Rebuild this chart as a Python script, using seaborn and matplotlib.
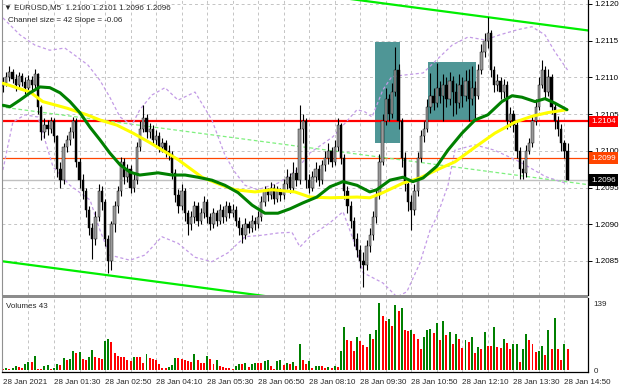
import numpy as np
import pandas as pd
import matplotlib
matplotlib.use('Agg')
from matplotlib import pyplot as plt
from matplotlib import transforms
import seaborn as sns

# EURUSD M5, 28 Jan 2021 -- bars
closes = [1.21092, 1.21100, 1.21108, 1.21098, 1.21090, 1.21102, 1.21094, 1.21085, 1.21097, 1.21090,
          1.21104, 1.21060, 1.21025, 1.21035, 1.21030, 1.21040, 1.21020, 1.20975, 1.20960, 1.21005,
          1.21015, 1.21025, 1.21040, 1.20985, 1.20960, 1.20945, 1.20920, 1.20895, 1.20880, 1.20910,
          1.20945, 1.20930, 1.20880, 1.20850, 1.20900, 1.20925, 1.20945, 1.20985, 1.20965, 1.20975,
          1.20950, 1.20960, 1.21005, 1.21030, 1.21045, 1.21025, 1.21030, 1.21015, 1.21020, 1.21005,
          1.21010, 1.21000, 1.20995, 1.20970, 1.20940, 1.20925, 1.20945, 1.20915, 1.20900, 1.20910,
          1.20925, 1.20905, 1.20915, 1.20930, 1.20910, 1.20900, 1.20915, 1.20905, 1.20920, 1.20910,
          1.20925, 1.20915, 1.20920, 1.20905, 1.20895, 1.20885, 1.20900, 1.20895, 1.20905, 1.20900,
          1.20910, 1.20930, 1.20945, 1.20940, 1.20950, 1.20935, 1.20945, 1.20940, 1.20955, 1.20965,
          1.20950, 1.20970, 1.20960, 1.21030, 1.21040, 1.20960, 1.20950, 1.20965, 1.20975, 1.20960,
          1.20980, 1.20990, 1.21000, 1.20985, 1.21005, 1.21035, 1.20990, 1.20945, 1.20925, 1.20905,
          1.20880, 1.20865, 1.20850, 1.20845, 1.20870, 1.20885, 1.20910, 1.20940, 1.20985, 1.21040,
          1.21070, 1.21050, 1.21080, 1.21110, 1.21040, 1.20990, 1.20955, 1.20930, 1.20920, 1.20945,
          1.20990, 1.21020, 1.21030, 1.21060, 1.21075, 1.21065, 1.21085, 1.21075, 1.21090, 1.21070,
          1.21095, 1.21080, 1.21065, 1.21090, 1.21075, 1.21095, 1.21070, 1.21085, 1.21075, 1.21110,
          1.21135, 1.21150, 1.21160, 1.21110, 1.21090, 1.21095, 1.21080, 1.21090, 1.21040, 1.21050,
          1.21035, 1.21000, 1.20975, 1.20970, 1.21000, 1.21010, 1.21040, 1.21060, 1.21090, 1.21110,
          1.21080, 1.21100, 1.21060, 1.21040, 1.21030, 1.21010, 1.21000, 1.20960]
highs = [1.21100, 1.21108, 1.21115, 1.21112, 1.21104, 1.21108, 1.21106, 1.21100, 1.21103, 1.21102,
         1.21112, 1.21106, 1.21062, 1.21045, 1.21042, 1.21046, 1.21044, 1.21022, 1.20985, 1.21010,
         1.21022, 1.21032, 1.21046, 1.21044, 1.20990, 1.20968, 1.20950, 1.20925, 1.20902, 1.20918,
         1.20955, 1.20952, 1.20935, 1.20885, 1.20905, 1.20932, 1.20952, 1.20992, 1.20990, 1.20982,
         1.20980, 1.20968, 1.21012, 1.21040, 1.21062, 1.21050, 1.21038, 1.21035, 1.21028, 1.21025,
         1.21018, 1.21015, 1.21008, 1.21000, 1.20975, 1.20948, 1.20955, 1.20950, 1.20920, 1.20918,
         1.20932, 1.20930, 1.20922, 1.20938, 1.20935, 1.20915, 1.20922, 1.20920, 1.20928, 1.20925,
         1.20932, 1.20930, 1.20928, 1.20925, 1.20910, 1.20900, 1.20908, 1.20905, 1.20912, 1.20910,
         1.20918, 1.20938, 1.20952, 1.20950, 1.20958, 1.20955, 1.20952, 1.20950, 1.20962, 1.20975,
         1.20970, 1.20985, 1.20978, 1.21062, 1.21050, 1.21045, 1.20968, 1.20972, 1.20985, 1.20980,
         1.20988, 1.21000, 1.21010, 1.21005, 1.21015, 1.21044, 1.21038, 1.20995, 1.20952, 1.20932,
         1.20910, 1.20888, 1.20872, 1.20862, 1.20878, 1.20895, 1.20918, 1.20948, 1.20995, 1.21050,
         1.21085, 1.21078, 1.21092, 1.21141, 1.21118, 1.21045, 1.20998, 1.20962, 1.20940, 1.20955,
         1.20998, 1.21028, 1.21040, 1.21070, 1.21106, 1.21085, 1.21120, 1.21095, 1.21105, 1.21100,
         1.21108, 1.21102, 1.21092, 1.21105, 1.21100, 1.21110, 1.21112, 1.21115, 1.21095, 1.21118,
         1.21145, 1.21160, 1.21182, 1.21165, 1.21115, 1.21105, 1.21100, 1.21098, 1.21095, 1.21060,
         1.21056, 1.21040, 1.21005, 1.20988, 1.21008, 1.21018, 1.21048, 1.21070, 1.21100, 1.21124,
         1.21115, 1.21112, 1.21105, 1.21065, 1.21048, 1.21036, 1.21015, 1.21010]
lows = [1.21080, 1.21088, 1.21095, 1.21092, 1.21082, 1.21085, 1.21088, 1.21078, 1.21080, 1.21083,
        1.21086, 1.21050, 1.21015, 1.21018, 1.21022, 1.21024, 1.21012, 1.20965, 1.20950, 1.20955,
        1.20998, 1.21008, 1.21018, 1.20978, 1.20950, 1.20935, 1.20910, 1.20885, 1.20852, 1.20872,
        1.20905, 1.20920, 1.20870, 1.20834, 1.20838, 1.20890, 1.20915, 1.20938, 1.20955, 1.20958,
        1.20942, 1.20944, 1.20955, 1.21000, 1.21025, 1.21018, 1.21018, 1.21008, 1.21008, 1.20998,
        1.20998, 1.20992, 1.20988, 1.20962, 1.20930, 1.20915, 1.20920, 1.20905, 1.20885, 1.20892,
        1.20902, 1.20898, 1.20900, 1.20908, 1.20902, 1.20892, 1.20895, 1.20898, 1.20900, 1.20902,
        1.20905, 1.20908, 1.20910, 1.20898, 1.20885, 1.20875, 1.20880, 1.20888, 1.20890, 1.20892,
        1.20895, 1.20905, 1.20925, 1.20932, 1.20935, 1.20928, 1.20930, 1.20932, 1.20935, 1.20948,
        1.20942, 1.20945, 1.20952, 1.20955, 1.21010, 1.20950, 1.20942, 1.20945, 1.20958, 1.20952,
        1.20955, 1.20972, 1.20982, 1.20978, 1.20980, 1.21000, 1.20982, 1.20935, 1.20915, 1.20895,
        1.20870, 1.20855, 1.20840, 1.20815, 1.20838, 1.20862, 1.20878, 1.20902, 1.20935, 1.20980,
        1.21035, 1.21040, 1.21045, 1.21075, 1.21030, 1.20978, 1.20945, 1.20918, 1.20892, 1.20912,
        1.20938, 1.20985, 1.21012, 1.21025, 1.21052, 1.21055, 1.21060, 1.21065, 1.21040, 1.21060,
        1.21062, 1.21048, 1.21050, 1.21058, 1.21060, 1.21068, 1.21040, 1.21062, 1.21045, 1.21070,
        1.21105, 1.21128, 1.21140, 1.21100, 1.21080, 1.21082, 1.21070, 1.21072, 1.21030, 1.21032,
        1.21025, 1.20990, 1.20962, 1.20962, 1.20965, 1.20995, 1.21005, 1.21035, 1.21055, 1.21085,
        1.21070, 1.21075, 1.21050, 1.21030, 1.21020, 1.21000, 1.20990, 1.20960]
first_open = 1.21088
volumes = [3, 4, 3, 5, 8, 7, 5, 12, 17, 16,
           30, 3, 3, 8, 10, 2, 5, 12, 10, 25,
           20, 22, 40, 35, 38, 22, 20, 28, 42, 28,
           25, 22, 60, 65, 58, 35, 30, 28, 26, 20,
           18, 28, 28, 28, 15, 33, 24, 22, 20, 12,
           5, 4, 6, 10, 25, 25, 23, 20, 18, 16,
           33, 20, 15, 14, 30, 22, 12, 20, 8, 6,
           5, 4, 3, 8, 13, 12, 15, 7, 12, 15,
           15, 14, 18, 20, 8, 3, 18, 20, 10, 15,
           13, 16, 8, 55, 20, 12, 18, 5, 8, 9,
           9, 5, 6, 4, 8, 7, 40, 90, 62, 60,
           40, 68, 60, 52, 47, 75, 64, 84, 139, 113,
           102, 106, 91, 134, 123, 128, 82, 80, 83, 75,
           64, 44, 69, 83, 86, 77, 97, 62, 102, 73,
           78, 54, 75, 64, 45, 62, 59, 68, 35, 47,
           43, 78, 50, 49, 90, 47, 46, 64, 57, 43,
           54, 55, 17, 43, 75, 62, 55, 38, 39, 50,
           32, 83, 43, 107, 43, 21, 54, 43]

# moving averages, read at points along the lines (bar index, price)
ma_fast_bars = [0, 2.2, 5.3, 8.5, 11.6, 14.7, 17.9, 21, 24.1, 27.3, 30.4, 33.5, 36.7, 39.8, 42.9,
                48.6, 53, 57.1, 61.1, 65.5, 69.6, 73.7, 78.1, 82.1, 86.2, 90, 94, 98.4, 102.5,
                106.6, 111, 115, 117.2, 121.3, 125.4, 128.5, 131.7, 136, 139.5, 143.9, 148, 152,
                156.4, 159.6, 162.7, 166.8, 169.9, 173, 176.8]
ma_fast = [1.21062, 1.21060, 1.21069, 1.21079, 1.21087, 1.21086, 1.21079, 1.21067, 1.21052,
           1.21032, 1.21015, 1.20997, 1.20981, 1.20971, 1.20967, 1.20970, 1.20967, 1.20967,
           1.20964, 1.20960, 1.20953, 1.20943, 1.20926, 1.20915, 1.20915, 1.20921, 1.20929,
           1.20937, 1.20951, 1.20958, 1.20953, 1.20944, 1.20947, 1.20960, 1.20964, 1.20958,
           1.20963, 1.20979, 1.21001, 1.21024, 1.21042, 1.21049, 1.21067, 1.21075, 1.21073,
           1.21067, 1.21071, 1.21065, 1.21056]
ma_slow_bars = [0, 8.5, 12.5, 20.1, 26.3, 30.4, 35.7, 40.8, 46.1, 54.9, 62.4, 68.7, 72.7, 79,
                84.3, 91.5, 96.2, 102.5, 111, 115, 119.1, 125.4, 130.7, 136, 141.7, 148, 154.2,
                160.5, 165.8, 170.8, 176.8]
ma_slow = [1.21092, 1.21080, 1.21067, 1.21058, 1.21049, 1.21042, 1.21035, 1.21024, 1.21011,
           1.20988, 1.20964, 1.20953, 1.20947, 1.20944, 1.20947, 1.20944, 1.20937, 1.20936,
           1.20937, 1.20936, 1.20943, 1.20956, 1.20963, 1.20974, 1.20985, 1.21005, 1.21024,
           1.21039, 1.21047, 1.21052, 1.21056]

# envelope bands (dashed violet)
band_up_bars = [0, 5.3, 10, 14.7, 19.4, 23.2, 26.6, 30.4, 33.5, 36.7, 40.4, 42.9, 46.7, 50.8,
                54.9, 60.2, 65.5, 69.6, 72.7, 75.9, 79.9, 86.2, 91.5, 96.2, 103.4, 111, 113.5,
                115.7, 119.1, 121.9, 125.4, 131.7, 136, 140.8, 145.8, 151.1, 155.8, 161.4,
                165.8, 169.9, 173, 177]
band_up = [1.21181, 1.21158, 1.21144, 1.21137, 1.21140, 1.21128, 1.21117, 1.21096, 1.21073,
           1.21046, 1.21035, 1.21056, 1.21076, 1.21086, 1.21069, 1.21080, 1.21042, 1.20994,
           1.20971, 1.20953, 1.20947, 1.20956, 1.20971, 1.20997, 1.21019, 1.21056, 1.21053,
           1.21046, 1.21083, 1.21101, 1.21103, 1.21106, 1.21124, 1.21144, 1.21155, 1.21151,
           1.21158, 1.21165, 1.21169, 1.21158, 1.21135, 1.21110]
band_dn_bars = [0, 1.6, 3.1, 6.9, 11, 15.7, 21, 27.3, 30.4, 33.5, 39.8, 44.5, 49.8, 54.9, 60.2,
                65.5, 70.5, 75.9, 81.2, 86.2, 90.6, 93.1, 96.2, 102.5, 106.6, 111, 112.9, 119.1,
                123.5, 126.6, 130.7, 133.9, 136, 139.5, 141.7, 148, 154, 162, 170, 177]
band_dn = [1.20974, 1.21008, 1.21039, 1.21049, 1.21046, 1.20978, 1.20953, 1.20933, 1.20892,
           1.20858, 1.20851, 1.20858, 1.20883, 1.20874, 1.20855, 1.20849, 1.20861, 1.20883,
           1.20885, 1.20888, 1.20889, 1.20869, 1.20883, 1.20902, 1.20917, 1.20865, 1.20834,
           1.20820, 1.20801, 1.20808, 1.20847, 1.20892, 1.20910, 1.20953, 1.21001, 1.21008,
           1.21001, 1.20985, 1.20965, 1.20955]

# regression channel: middle line end points and half width
channel_bars = [-1, 185]
channel_mid = [1.21060, 1.20953]
channel_half = 0.0021

level_red = 1.2104
level_orange = 1.2099
last_price = 1.2096

# shaded zones: bar from, bar to, price low, price high
zones = [(116.6, 124.5, 1.21011, 1.21148), (133.2, 148.3, 1.21042, 1.21121)]

time_labels = ['28 Jan 2021', '28 Jan 01:30', '28 Jan 02:50', '28 Jan 04:10', '28 Jan 05:30',
               '28 Jan 06:50', '28 Jan 08:10', '28 Jan 09:30', '28 Jan 10:50', '28 Jan 12:10',
               '28 Jan 13:30', '28 Jan 14:50']
price_ticks = [1.2085, 1.2090, 1.2095, 1.2100, 1.2105, 1.2110, 1.2115, 1.2120]

#%% build frames
n = len(closes)
bars = pd.DataFrame({'bar': np.arange(n), 'open': [first_open] + closes[:-1],
                     'high': highs, 'low': lows, 'close': closes, 'volume': volumes})
bars['up'] = bars['close'] >= bars['open']
bars['vol_up'] = bars['volume'].diff().fillna(0) > 0

sns.set_style('white')
plt.rcParams['font.family'] = ['Liberation Sans', 'DejaVu Sans']
fs = 5.8

W, H = 620, 388
def frame(x0, y0, x1, y1):
    return [x0 / W, 1 - y1 / H, (x1 - x0) / W, (y1 - y0) / H]

fig = plt.figure(figsize=(6.2, 3.88), dpi=100)
ax = fig.add_axes(frame(2, 0, 588, 295))
axv = fig.add_axes(frame(2, 298, 588, 372))
xlim = (-0.3, 183.4)

#%% price panel
grid_kw = dict(color='#c4c4c4', lw=0.7, ls=(0, (3, 3)), zorder=0)
for p in price_ticks:
    ax.axhline(p, **grid_kw)
for k in range(8, 184, 8):
    ax.axvline(k, **grid_kw)
    axv.axvline(k, **grid_kw)

for z in zones:
    ax.add_patch(plt.Rectangle((z[0], z[2]), z[1] - z[0], z[3] - z[2],
                               facecolor='#4f9696', edgecolor='none', zorder=1))

ax.axhline(last_price, color='#c0c0c0', lw=1.0, zorder=1)
ax.axhline(level_orange, color='#ff4500', lw=0.9, zorder=2)
ax.axhline(level_red, color='#ff0000', lw=1.6, zorder=2)

# channel
ch = pd.DataFrame({'bar': channel_bars, 'mid': channel_mid})
sns.lineplot(x=ch['bar'], y=ch['mid'], ax=ax, color='#7ef07e', lw=0.9,
             linestyle=(0, (3, 2)), zorder=2)
sns.lineplot(x=ch['bar'], y=ch['mid'] + channel_half, ax=ax, color='#00ee00', lw=1.6, zorder=2)
sns.lineplot(x=ch['bar'], y=ch['mid'] - channel_half, ax=ax, color='#00ee00', lw=1.6, zorder=2)

# bands
sns.lineplot(x=band_up_bars, y=band_up, ax=ax, color='#c39be6', lw=0.9, linestyle=(0, (2.5, 2)), zorder=2)
sns.lineplot(x=band_dn_bars, y=band_dn, ax=ax, color='#c39be6', lw=0.9, linestyle=(0, (2.5, 2)), zorder=2)

# candles
ax.vlines(bars['bar'], bars['low'], bars['high'], color='black', lw=0.8, zorder=3)
body_lo = bars[['open', 'close']].min(axis=1)
body_h = (bars['close'] - bars['open']).abs().clip(lower=0.000012)
ax.bar(bars['bar'], body_h, bottom=body_lo, width=0.72,
       color=np.where(bars['up'], '#9a9a9a', '#000000'), edgecolor='black', lw=0.3, zorder=4)

# moving averages
sns.lineplot(x=ma_slow_bars, y=ma_slow, ax=ax, color='#ffff00', lw=2.2, zorder=5)
sns.lineplot(x=ma_fast_bars, y=ma_fast, ax=ax, color='#008000', lw=2.2, zorder=6)

ax.set_xlim(xlim)
ax.set_ylim(1.208036, 1.212054)
ax.set_xticks([])
ax.set_yticks(price_ticks)
ax.set_yticklabels(['%.4f' % p for p in price_ticks])
ax.yaxis.tick_right()
ax.tick_params(axis='y', length=3, width=0.7, pad=1.5, labelsize=fs, colors='black')
ax.set_xlabel('')
ax.set_ylabel('')
for s in ['top', 'bottom']:
    ax.spines[s].set_visible(False)
ax.spines['right'].set_color('black')
ax.spines['right'].set_linewidth(0.9)
ax.spines['left'].set_color('#909090')

# price tags on the right axis
tr = transforms.blended_transform_factory(ax.transAxes, ax.transData)
tag_tr = transforms.offset_copy(tr, fig=fig, x=2.4, units='points')
for val, bg in [(level_red, '#ff0000'), (level_orange, '#ff4500'), (last_price, '#000000')]:
    ax.text(1.0, val, '%.4f' % val, transform=tag_tr,
            ha='left', va='center', fontsize=fs, color='white',
            bbox=dict(facecolor=bg, edgecolor='none', boxstyle='square,pad=0.3'), zorder=10,
            clip_on=False)

#%% volume panel
axv.bar(bars['bar'], bars['volume'], width=0.62,
        color=np.where(bars['vol_up'], '#008000', '#ff0000'), lw=0)
axv.set_xlim(xlim)
axv.set_ylim(-4.1, 149.4)
axv.set_yticks([0, 139])
axv.set_yticklabels(['0', '139'])
axv.yaxis.tick_right()
axv.tick_params(axis='y', length=0, pad=4, labelsize=fs)
axv.set_xticks(range(0, 177, 16))
axv.set_xticklabels(time_labels, ha='left')
axv.tick_params(axis='x', length=3, width=0.7, pad=2, labelsize=fs)
axv.set_xlabel('')
axv.set_ylabel('')
axv.spines['top'].set_visible(False)
axv.spines['left'].set_color('#909090')
for s in ['right', 'bottom']:
    axv.spines[s].set_color('black')
    axv.spines[s].set_linewidth(0.9)
axv.text(0.007, 0.93, 'Volumes 43', transform=axv.transAxes, fontsize=fs, va='top')

# separator between panels
fig.patches.append(plt.Rectangle((2 / W, 1 - 298 / H), 586 / W, 3.5 / H, transform=fig.transFigure,
                                 facecolor='#8c8c8c', edgecolor='none'))

fig.text(4 / W, 1 - 8 / H, '\u25bc EURUSD,M5  1.2100 1.2101 1.2096 1.2096', fontsize=fs,
         va='center')
fig.text(8 / W, 1 - 20 / H, 'Channel size = 42 Slope = -0.06', fontsize=fs, va='center')

plt.savefig('out.png', dpi=100)
